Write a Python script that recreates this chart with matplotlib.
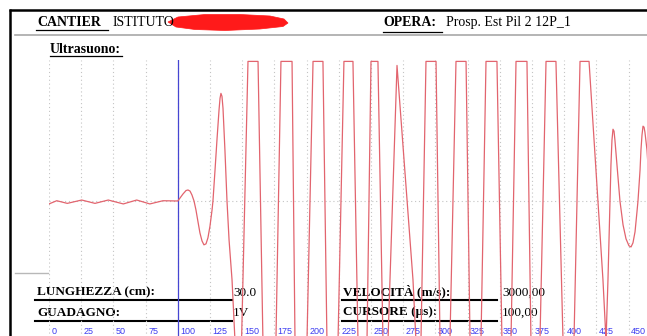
import matplotlib
matplotlib.use("Agg")
import matplotlib.pyplot as plt
from matplotlib.patches import Polygon
from matplotlib.transforms import offset_copy

# ---------------- data ----------------
time_us = [0.0, 6.0, 14.2, 25.4, 35.7, 46.0, 57.7, 68.1, 78.3, 88.5, 100.0,
           101.7, 104.0, 106.4, 107.9, 109.5, 111.0, 112.6, 114.1, 115.7, 117.2,
           118.8, 120.3, 121.9, 123.4, 125.0, 126.6, 127.3, 128.9, 130.4, 132.0,
           132.8, 133.5, 134.3, 135.1, 136.6, 138.2, 139.8, 142.1, 144.4,
           149.5, 154.5, 162.3, 166.1, 176.2, 180.1, 188.7, 191.0, 200.3,
           205.0, 212.7, 215.8, 224.4, 229.0, 236.0, 239.9, 246.9, 250.0,
           255.4, 259.3, 263.2, 270.2, 282.6, 284.9, 288.8, 292.7, 300.5,
           303.6, 311.3, 316.0, 323.8, 326.9, 335.4, 339.3, 347.8, 351.7,
           358.7, 362.6, 371.1, 374.2, 381.2, 385.9, 393.6, 399.1, 407.6,
           412.3, 419.3, 430.1, 432.5, 434.0, 435.6, 436.3, 437.1, 437.9,
           438.7, 439.4, 441.0, 443.3, 445.7, 448.0, 450.3, 451.9, 453.4,
           455.0, 456.5, 457.3, 458.9, 459.6, 460.4, 461.2, 462.0, 462.7,
           464.3, 465.8, 468.2]
amplitude = [-2.1, 0.2, -1.7, 0.7, -1.7, 0.7, -2.1, 0.7, -2.1, 0.2, 0.0,
             2.1, 5.0, 7.5, 7.9, 7.1, 4.3, 0.0, -6.4, -15.0, -22.9,
             -28.6, -31.4, -30.7, -26.4, -17.9, -6.4, 0.0, 22.1, 43.6, 65.0,
             73.6, 77.1, 75.0, 66.4, 36.4, 0.0, -27.9, -56.4, -100,
             -100, 100, 100, -100, -100, 100, 100, -100, -100,
             100, 100, -100, -100, 100, 100, -100, -100, 100,
             100, -100, -100, 97.1, -56.4, -100, -100, 100, 100,
             -100, -100, 100, 100, -100, -100, 100, 100, -100,
             -100, 100, 100, -100, -100, 100, 100, -100, -100,
             100, 100, -56.4, -100, -56.4, 0.7, 25.7, 43.6, 51.4,
             50.0, 43.6, 25.7, 0.0, -17.1, -27.1, -32.1, -32.9, -30.0,
             -22.1, -7.9, 0.0, 22.1, 36.4, 47.1, 53.6, 52.9, 49.3,
             36.4, 15.0, -20.7]
cursor_us = 100
tick_values = [0, 25, 50, 75, 100, 125, 150, 175, 200, 225, 250, 275, 300,
               325, 350, 375, 400, 425, 450]
tick_labels = [str(v) for v in tick_values]

cantiere = "ISTITUTO"
opera = "Prosp. Est Pil 2 12P_1"
lunghezza = "30.0"
guadagno = "1V"
velocita = "3000,00"
cursore = "100,00"

# ---------------- figure ----------------
W, H = 647, 336
fig = plt.figure(figsize=(W / 100, H / 100), dpi=100)
fig.patch.set_facecolor("white")

# overlay (pixel coordinates) for the report frame and texts
ov = fig.add_axes([0, 0, 1, 1])
ov.set_xlim(0, W)
ov.set_ylim(H, 0)
ov.axis("off")

serif = "Liberation Serif"
# frame
ov.plot([9, W], [9.5, 9.5], color="black", lw=1.8, solid_capstyle="butt")
ov.plot([10.3, 10.3], [9, H], color="black", lw=1.8, solid_capstyle="butt")
ov.plot([15, W], [35, 35], color="#a8a8a8", lw=1.2)
ov.plot([15, 48], [273, 273], color="#b8b8b8", lw=1.0)

# header
ov.text(37, 26, "CANTIER", family=serif, weight="bold", fontsize=10, va="baseline")
ov.plot([36, 108], [30, 30], color="black", lw=0.9)
ov.text(113, 26, cantiere, family=serif, fontsize=10, va="baseline")
scrib = Polygon([(168, 22), (178, 17), (205, 14.5), (240, 14.5), (270, 16), (284, 19),
                 (288, 23), (283, 26.5), (260, 29), (225, 30.5), (195, 29.5), (176, 27)],
                closed=True, facecolor="#ff1a1a", edgecolor="#ff1a1a", lw=0.5)
ov.add_patch(scrib)
ov.text(383, 26, "OPERA:", family=serif, weight="bold", fontsize=10, va="baseline")
ov.plot([383, 442], [31.5, 31.5], color="black", lw=0.9)
ov.text(446, 26, opera, family=serif, fontsize=10, va="baseline")

ov.text(50, 53, "Ultrasuono:", family=serif, weight="bold", fontsize=10, va="baseline")
ov.plot([50, 122], [56, 56], color="black", lw=0.9)

# bottom fields
ov.text(37, 295.5, "LUNGHEZZA (cm):", family=serif, weight="bold", fontsize=9.5, va="baseline")
ov.plot([35, 232], [299.5, 299.5], color="black", lw=1.5)
ov.text(233, 295.5, lunghezza, family=serif, fontsize=9.5, va="baseline")
ov.text(37, 315.5, "GUADAGNO:", family=serif, weight="bold", fontsize=9.5, va="baseline")
ov.plot([35, 232], [320.8, 320.8], color="black", lw=1.5)
ov.text(233, 315.5, guadagno, family=serif, fontsize=9.5, va="baseline")

ov.text(343, 295.5, "VELOCITÀ (m/s):", family=serif, weight="bold", fontsize=9.5, va="baseline")
ov.plot([341.5, 497], [299.5, 299.5], color="black", lw=1.5)
ov.text(502, 295.5, velocita, family=serif, fontsize=9.5, va="baseline")
ov.text(343, 315.5, "CURSORE (µs):", family=serif, weight="bold", fontsize=9.5, va="baseline")
ov.plot([341.5, 497], [320.8, 320.8], color="black", lw=1.5)
ov.text(502, 315.5, cursore, family=serif, fontsize=9.5, va="baseline")

# waveform axes
left_px, right_px, top_px, bot_px = 49, W, 60, 342
ax = fig.add_axes([left_px / W, (H - bot_px) / H, (right_px - left_px) / W, (bot_px - top_px) / H])
ax.patch.set_alpha(0)
ax.set_xlim(0, 464.3)
ax.set_ylim(-101, 101)
for s in ax.spines.values():
    s.set_visible(False)
ax.set_xticks(tick_values)
ax.set_yticks([0])
ax.tick_params(length=0, labelbottom=False, labelleft=False)
ax.grid(True, color="#c4c4c4", lw=0.8, linestyle=(0, (1, 2.5)))
ax.set_axisbelow(True)

ax.axvline(cursor_us, color="#4646d2", lw=0.9, zorder=2)
ax.plot(time_us, amplitude, color="#e2646e", lw=0.9, zorder=3, solid_joinstyle="round")

tr = offset_copy(ax.get_xaxis_transform(), fig=fig, x=2.5, y=0, units="dots")
ylab = (bot_px - 331) / (bot_px - top_px)
for v, lab in zip(tick_values, tick_labels):
    ax.text(v, ylab, lab, transform=tr, ha="left", va="center", fontsize=6.5,
            family="Liberation Sans", color="#3c3cf0", zorder=1)

fig.savefig("out.png", dpi=100, facecolor="white")
